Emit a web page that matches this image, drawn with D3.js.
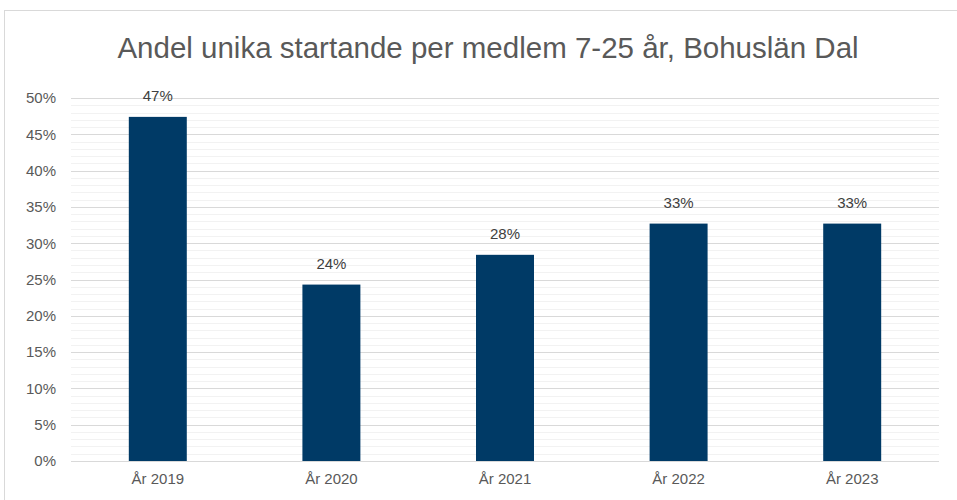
<!DOCTYPE html>
<html>
<head>
<meta charset="utf-8">
<script src="https://cdn.jsdelivr.net/npm/d3@7"></script>
<style>
  body { margin: 0; background: #fff; }
  text { font-family: "Liberation Sans", Arial, sans-serif; }
</style>
</head>
<body>
<svg id="chart"></svg>
<script>
// DATA
const title = "Andel unika startande per medlem 7-25 år, Bohuslän Dal";
const years = ["År 2019", "År 2020", "År 2021", "År 2022", "År 2023"];
const shares = [0.474, 0.243, 0.284, 0.327, 0.327];
const majorTicks = [0, 0.05, 0.10, 0.15, 0.20, 0.25, 0.30, 0.35, 0.40, 0.45, 0.50];

const width = 957, height = 500;
const plotLeft = 71, plotRight = 939, plotTop = 98, plotBottom = 461;

const svg = d3.select("#chart")
  .attr("width", width)
  .attr("height", height);

// marco del gráfico
svg.append("rect")
  .attr("x", 4.5).attr("y", 10.5)
  .attr("width", 1000).attr("height", 1000)
  .attr("fill", "none")
  .attr("stroke", "#d9d9d9");

// escalas
const x = d3.scaleBand()
  .domain(years)
  .range([plotLeft, plotRight])
  .paddingInner(0.666)
  .paddingOuter(0.333);

const y = d3.scaleLinear()
  .domain([0, 0.5])
  .range([plotBottom, plotTop]);

// líneas menores
svg.append("g")
  .selectAll("line")
  .data(y.ticks(50).filter(t => Math.round(t * 100) % 5 !== 0))
  .enter().append("line")
  .attr("x1", plotLeft).attr("x2", plotRight)
  .attr("y1", d => Math.round(y(d)) + 0.5)
  .attr("y2", d => Math.round(y(d)) + 0.5)
  .attr("stroke", "#f2f2f2");

// líneas mayores
svg.append("g")
  .selectAll("line")
  .data(majorTicks)
  .enter().append("line")
  .attr("x1", plotLeft).attr("x2", plotRight)
  .attr("y1", d => Math.round(y(d)) + 0.5)
  .attr("y2", d => Math.round(y(d)) + 0.5)
  .attr("stroke", "#d9d9d9");

// eje y
const yAxis = svg.append("g")
  .attr("transform", `translate(${plotLeft}, 0)`)
  .call(d3.axisLeft(y).tickValues(majorTicks).tickFormat(d3.format(".0%")).tickSize(0).tickPadding(15));
yAxis.select(".domain").remove();
yAxis.selectAll("text")
  .attr("fill", "#595959")
  .style("font-size", "15px")
  .style("font-family", "Liberation Sans, Arial, sans-serif");

// eje x
const xAxis = svg.append("g")
  .attr("transform", `translate(0, ${plotBottom})`)
  .call(d3.axisBottom(x).tickSize(0).tickPadding(12));
xAxis.select(".domain").remove();
xAxis.selectAll("text")
  .attr("fill", "#595959")
  .style("font-size", "15px")
  .style("font-family", "Liberation Sans, Arial, sans-serif");

// barras
svg.append("g")
  .selectAll("rect")
  .data(years)
  .enter().append("rect")
  .attr("x", d => x(d))
  .attr("y", (d, i) => y(shares[i]))
  .attr("width", x.bandwidth())
  .attr("height", (d, i) => y(0) - y(shares[i]))
  .attr("fill", "#003a66");

// etiquetas
svg.append("g")
  .selectAll("text")
  .data(years)
  .enter().append("text")
  .attr("x", d => x(d) + x.bandwidth() / 2)
  .attr("y", (d, i) => y(shares[i]) - 16)
  .attr("text-anchor", "middle")
  .attr("fill", "#404040")
  .style("font-size", "15px")
  .text((d, i) => d3.format(".0%")(shares[i]));

// título
svg.append("text")
  .attr("x", 488)
  .attr("y", 58)
  .attr("text-anchor", "middle")
  .attr("fill", "#595959")
  .style("font-size", "29.5px")
  .text(title);
</script>
</body>
</html>
